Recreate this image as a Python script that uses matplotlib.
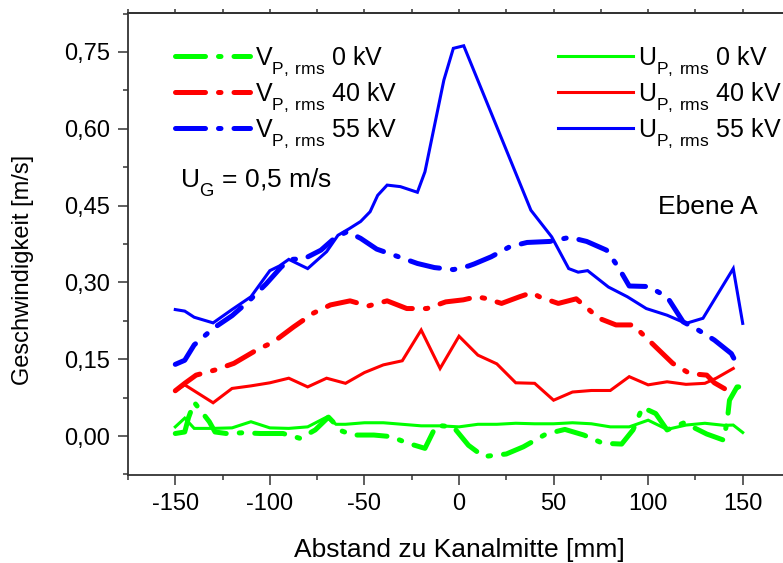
import matplotlib
matplotlib.use("Agg")
import matplotlib.pyplot as plt
from matplotlib.ticker import FixedLocator, MultipleLocator, NullFormatter

try:
    # deeper subscript drop for the index labels
    import matplotlib._mathtext as _mt
    _mt.FontConstantsBase.sub1 = 0.65
except Exception:
    pass

plt.rcParams['font.family'] = ['Liberation Sans', 'DejaVu Sans']
plt.rcParams['mathtext.fontset'] = 'custom'
plt.rcParams['mathtext.rm'] = 'Liberation Sans'

# U_P,rms (solid lines)
u0_x = [-150, -145, -140, -130, -120, -110, -100, -90, -80, -70, -65, -60, -50, -40, -30, -20,
        -10, 0, 10, 20, 30, 40, 50, 60, 70, 80, 90, 100, 110, 120, 130, 140, 145, 150]
u0_y = [0.018, 0.035, 0.015, 0.015, 0.016, 0.028, 0.016, 0.015, 0.018, 0.037, 0.023, 0.023,
        0.026, 0.026, 0.023, 0.020, 0.020, 0.018, 0.023, 0.023, 0.025, 0.024, 0.024, 0.026,
        0.024, 0.018, 0.018, 0.031, 0.013, 0.0215, 0.025, 0.021, 0.0215, 0.007]

u40_x = [-150, -145, -130, -120, -110, -100, -90, -80, -70, -60, -50, -40, -30, -20, -10, 0,
         10, 20, 30, 40, 50, 60, 70, 80, 90, 100, 110, 120, 130, 136, 145]
u40_y = [0.088, 0.100, 0.065, 0.093, 0.098, 0.104, 0.113, 0.096, 0.113, 0.103, 0.124, 0.139,
         0.147, 0.207, 0.132, 0.195, 0.158, 0.141, 0.104, 0.103, 0.070, 0.086, 0.089, 0.089,
         0.116, 0.100, 0.106, 0.101, 0.103, 0.113, 0.132]

u55_x = [-150, -145, -140, -130, -120, -110, -100, -95, -90, -80, -70, -64, -58, -52, -47, -43,
         -38, -31, -22, -18, -8, -3, 2.5, 38, 49, 58, 63, 68, 79, 89, 99, 110, 120, 129, 145, 150]
u55_y = [0.247, 0.244, 0.232, 0.221, 0.247, 0.272, 0.323, 0.332, 0.345, 0.327, 0.360, 0.392,
         0.405, 0.419, 0.438, 0.470, 0.490, 0.487, 0.476, 0.516, 0.695, 0.757, 0.762, 0.441,
         0.389, 0.327, 0.320, 0.323, 0.291, 0.272, 0.249, 0.236, 0.220, 0.230, 0.327, 0.220]

# V_P,rms (dash-dot lines)
v0_x = [-150, -145, -143, -140, -132, -129, -123, -114, -105, -93, -84, -76, -69, -62, -56, -45,
        -36, -27, -18, -12, -3, 5, 13, 25, 34, 46, 56, 66, 76, 86, 92, 97, 104, 110, 119, 131,
        140, 142, 143, 147, 150]
v0_y = [0.005, 0.008, 0.036, 0.066, 0.028, 0.008, 0.005, 0.0065, 0.005, 0.005, -0.0045, 0.012,
        0.037, 0.010, 0.002, 0.002, -0.001, -0.014, -0.024, 0.021, 0.018, -0.018, -0.040,
        -0.035, -0.021, 0.004, 0.013, 0.002, -0.014, -0.0156, 0.012, 0.056, 0.044, 0.012,
        0.026, 0.004, -0.008, 0.036, 0.070, 0.096, 0.096]

v40_x = [-150, -145, -139, -129, -119, -107, -98, -87.5, -77, -68, -57.6, -48, -38, -27.6, -17,
         -7, 2.3, 9.4, 13.7, 22.5, 32, 38.4, 43, 52.5, 62, 74, 83, 92, 104, 113, 122, 131, 135,
         143, 145]
v40_y = [0.0885, 0.103, 0.119, 0.129, 0.142, 0.168, 0.184, 0.213, 0.240, 0.256, 0.264, 0.254,
         0.264, 0.249, 0.249, 0.262, 0.266, 0.272, 0.269, 0.259, 0.272, 0.280, 0.271, 0.259,
         0.268, 0.230, 0.217, 0.217, 0.174, 0.142, 0.122, 0.119, 0.104, 0.087, 0.080]

v55_x = [-150, -145, -140, -130, -120, -111, -102, -94, -89, -82, -73, -65, -59, -52, -43.5, -35,
         -22, -13, -3, 5, 8, 17, 27, 36, 48, 58.6, 67.5, 78, 84, 90, 100, 110, 118.5, 126.5,
         135, 144, 146.3]
v55_y = [0.140, 0.148, 0.178, 0.210, 0.235, 0.264, 0.297, 0.330, 0.345, 0.346, 0.363, 0.389,
         0.399, 0.386, 0.365, 0.354, 0.337, 0.329, 0.325, 0.332, 0.336, 0.350, 0.370, 0.378,
         0.380, 0.388, 0.380, 0.363, 0.331, 0.293, 0.292, 0.272, 0.223, 0.207, 0.1875, 0.161,
         0.145]

x_ticks = [-150, -100, -50, 0, 50, 100, 150]
x_tick_labels = ["-150", "-100", "-50", "0", "50", "100", "150"]
y_ticks = [0.00, 0.15, 0.30, 0.45, 0.60, 0.75]
y_tick_labels = ["0,00", "0,15", "0,30", "0,45", "0,60", "0,75"]

GREEN, RED, BLUE = "#00ff00", "#ff0000", "#0000ff"
AXC = "#333333"

fig = plt.figure(figsize=(7.83, 5.63), dpi=100)
ax = fig.add_axes([128 / 783, 88 / 563, 662 / 783, 462 / 563])

dd = dict(lw=3.6, dashes=(6.0, 2.6, 0.5, 2.6), dash_capstyle='round', solid_capstyle='round')
lv0, = ax.plot(v0_x, v0_y, color=GREEN, **dd)
lv40, = ax.plot(v40_x, v40_y, color=RED, **dd)
lv55, = ax.plot(v55_x, v55_y, color=BLUE, **dd)

sl = dict(lw=2.2, solid_joinstyle='miter')
lu0, = ax.plot(u0_x, u0_y, color=GREEN, **sl)
lu40, = ax.plot(u40_x, u40_y, color=RED, **sl)
lu55, = ax.plot(u55_x, u55_y, color=BLUE, **sl)

ax.set_xlim(-175, 175)
ax.set_ylim(-0.076, 0.826)

ax.xaxis.set_major_locator(FixedLocator(x_ticks))
ax.set_xticklabels(x_tick_labels)
ax.xaxis.set_minor_locator(MultipleLocator(25))
ax.yaxis.set_major_locator(FixedLocator(y_ticks))
ax.set_yticklabels(y_tick_labels)
ax.yaxis.set_minor_locator(MultipleLocator(0.075))

for s in ax.spines.values():
    s.set_linewidth(1.3)
    s.set_color(AXC)
ax.spines['right'].set_visible(False)

ax.tick_params(which='major', direction='out', length=7.2, width=1.1, color=AXC,
               labelsize=17, labelcolor='black', pad=6)
ax.tick_params(which='minor', direction='out', length=3.6, width=1.1, color=AXC)

# short outward ticks along the top edge
top = ax.secondary_xaxis('top')
top.xaxis.set_major_locator(MultipleLocator(25))
top.xaxis.set_major_formatter(NullFormatter())
top.tick_params(direction='out', length=3, width=1.1, color=AXC)
top.spines['top'].set_linewidth(1.3)
top.spines['top'].set_color(AXC)

ax.set_xlabel("Abstand zu Kanalmitte [mm]", fontsize=19, labelpad=16)
ax.set_ylabel("Geschwindigkeit [m/s]", fontsize=17)
ax.yaxis.set_label_coords(-0.142, 0.444)

leg_kw = dict(frameon=False, fontsize=18, handlelength=3.0, handletextpad=0.2,
              labelspacing=0.1, borderpad=0, borderaxespad=0, loc='upper left')
leg1 = ax.legend([lv0, lv40, lv55],
                 [r"$\mathregular{V_{P,\,rms}}$ 0 kV", r"$\mathregular{V_{P,\,rms}}$ 40 kV",
                  r"$\mathregular{V_{P,\,rms}}$ 55 kV"],
                 bbox_to_anchor=(0.071, 0.931), **leg_kw)
ax.add_artist(leg1)
ax.legend([lu0, lu40, lu55],
          [r"$\mathregular{U_{P,\,rms}}$ 0 kV", r"$\mathregular{U_{P,\,rms}}$ 40 kV",
           r"$\mathregular{U_{P,\,rms}}$ 55 kV"],
          bbox_to_anchor=(0.6495, 0.931), **leg_kw)

ax.text(0.078, 0.632, r"$\mathregular{U_{G}}$ = 0,5 m/s", transform=ax.transAxes,
        fontsize=19, va='center', ha='left')
ax.text(0.80, 0.58, "Ebene A", transform=ax.transAxes, fontsize=19, va='center', ha='left')

fig.savefig("out.png", dpi=100)
